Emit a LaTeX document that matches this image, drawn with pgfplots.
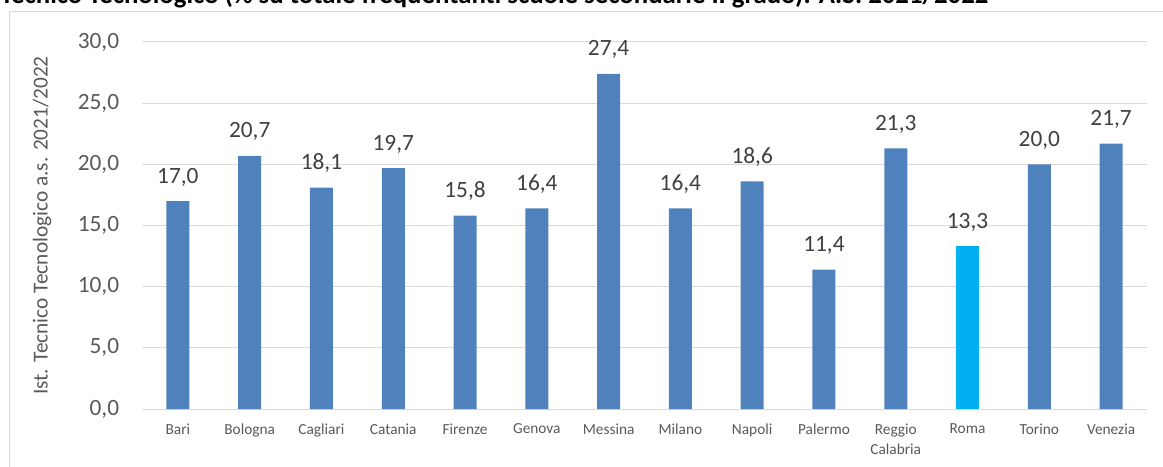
\documentclass[border=0pt]{standalone}
\usepackage{fontspec}
\setmainfont{Carlito}
\usepackage{graphicx}
\usepackage{pgfplots}
\pgfplotsset{compat=1.18}
\definecolor{barblue}{HTML}{4F81BD}
\definecolor{roma}{HTML}{00B0F0}
\definecolor{gridc}{HTML}{D9D9D9}
\definecolor{txt}{HTML}{595959}
\definecolor{lbl}{HTML}{404040}
\begin{document}
\begin{tikzpicture}
\begin{axis}[
  at={(0pt,0pt)}, anchor=south west,
  width=753.75pt, height=275.25pt, scale only axis,
  xmin=-0.5, xmax=13.5, ymin=0, ymax=30,
  ytick={0,5,10,15,20,25,30},
  yticklabels={{0,0},{5,0},{10,0},{15,0},{20,0},{25,0},{30,0}},
  xtick={0,1,2,3,4,5,6,7,8,9,10,11,12,13},
  xticklabels={Bari,Bologna,Cagliari,Catania,Firenze,Genova,Messina,Milano,Napoli,Palermo,{Reggio\\Calabria},Roma,Torino,Venezia},
  ymajorgrids, grid style={gridc, line width=0.75pt},
  axis x line*=bottom, axis y line*=left,
  x axis line style={gridc, line width=0.75pt},
  y axis line style={draw=none},
  major tick length=0pt,
  yticklabel style={font=\fontsize{17.5}{20}\selectfont, color=txt, anchor=east, inner sep=0pt, xshift=-17pt},
  xticklabel style={font=\fontsize{11.5}{15}\selectfont, color=txt, align=center, anchor=north, inner sep=0pt, yshift=-11pt},
  every axis y label/.style={at={(axis description cs:0,0.5)}, xshift=-75pt, rotate=90, anchor=center, font=\fontsize{16}{18}\selectfont, color=txt},
  ylabel={Ist. Tecnico Tecnologico a.s. 2021/2022},
  /pgf/number format/fixed, /pgf/number format/fixed zerofill,
  /pgf/number format/precision=1, /pgf/number format/use comma,
  /pgf/number format/assume math mode=true,
  ybar, bar width=23*0.75pt, bar shift=0pt,
  nodes near coords,
  every node near coord/.append style={font=\fontsize{17.5}{20}\selectfont, color=lbl, anchor=south, inner sep=0pt, yshift=11pt},
  clip=false,
]
\addplot[fill=barblue, draw=none] coordinates {
(0,17.0) (1,20.7) (2,18.1) (3,19.7) (4,15.8) (5,16.4) (6,27.4) (7,16.4) (8,18.6) (9,11.4) (10,21.3) (12,20.0) (13,21.7)};
\addplot[fill=roma, draw=none] coordinates {(11,13.3)};
\end{axis}
\draw[gridc, line width=0.75pt] (-99pt,-80pt) rectangle (800pt,297.75pt);
\node[anchor=base west, inner sep=0pt] at (-106.5pt,304.1pt) {\resizebox{741pt}{!}{\fontsize{15}{18}\selectfont\bfseries Tecnico Tecnologico (\% su totale frequentanti scuole secondarie II grado). A.S. 2021/2022}};
\pgfresetboundingbox
\useasboundingbox (-106.5pt,-43.5pt) rectangle (765.75pt,306.75pt);
\end{tikzpicture}
\end{document}
